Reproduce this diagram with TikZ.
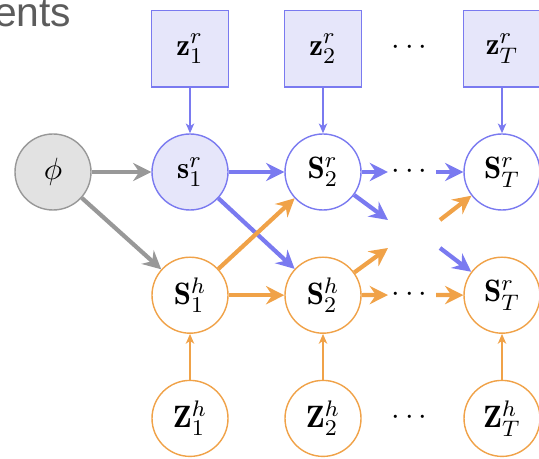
\documentclass[tikz,border=0pt]{standalone}
\usepackage{amsmath,amsfonts,amssymb}
\usepackage{fontspec}
\newfontfamily\slidefont{Liberation Sans}
\usetikzlibrary{arrows.meta,calc}

\definecolor{rblue}{RGB}{122,122,240}
\definecolor{rfill}{RGB}{230,230,250}
\definecolor{horange}{RGB}{240,162,72}
\definecolor{pgray}{RGB}{152,152,152}
\definecolor{pfill}{RGB}{226,226,226}
\definecolor{titlegray}{RGB}{92,92,92}

\begin{document}
\begin{tikzpicture}[node distance=1.54cm,
    every node/.style={line width=0.5pt,font=\fontsize{11}{13}\selectfont},
    rnode/.style={shape=circle,draw=rblue,fill=white,minimum size=0.95cm,inner sep=0pt},
    hnode/.style={shape=circle,draw=horange,fill=white,minimum size=0.95cm,inner sep=0pt},
    zbox/.style={shape=rectangle,draw=rblue,fill=rfill,minimum size=0.96cm,inner sep=0pt},
    thin r/.style={-{Stealth[length=3.5pt,width=3pt,inset=1pt]},draw=rblue,line width=0.55pt},
    thin h/.style={-{Stealth[length=3.5pt,width=3pt,inset=1pt]},draw=horange,line width=0.55pt},
    bold/.style={-{Stealth[length=6.5pt,width=6.5pt,inset=2.2pt]},line width=1.5pt},
    bold r/.style={bold,draw=rblue},
    bold h/.style={bold,draw=horange},
    bold p/.style={bold,draw=pgray}]

  \useasboundingbox (0,0) rectangle (6.7375,-5.725);

  % slide title running into the frame
  \node[anchor=base east,inner sep=0pt,text=titlegray,font=\slidefont\fontsize{14.5}{17}\selectfont] (title) at (0.9,-0.33) {ents};

  % state chain
  \node[rnode,fill=rfill] (s1r) at (2.375,-2.15) {$\mathbf{s}^r_1$};
  \node[rnode] (s2r) [right of=s1r,node distance=1.6625cm] {$\mathbf{S}^r_2$};
  \node[rnode] (sTr) [right of=s2r,node distance=2.2375cm] {$\mathbf{S}^r_T$};
  \node[shape=circle,draw=pgray,fill=pfill,minimum size=0.95cm,inner sep=0pt] (phi) [left of=s1r,node distance=1.7125cm] {$\phi$};
  \node[hnode] (s1h) [below of=s1r] {$\mathbf{S}^h_1$};
  \node[hnode] (s2h) [below of=s2r] {$\mathbf{S}^h_2$};
  \node[hnode] (sTh) [below of=sTr] {$\mathbf{S}^r_T$};

  % observed inputs
  \node[zbox] (z1r) [above of=s1r] {$\mathbf{z}^r_1$};
  \node[zbox] (z2r) [above of=s2r] {$\mathbf{z}^r_2$};
  \node[zbox] (zTr) [above of=sTr] {$\mathbf{z}^r_T$};
  \node[hnode] (z1h) [below of=s1h] {$\mathbf{Z}^h_1$};
  \node[hnode] (z2h) [below of=s2h] {$\mathbf{Z}^h_2$};
  \node[hnode] (zTh) [below of=sTh] {$\mathbf{Z}^h_T$};

  % dots between step 2 and T
  \node[inner sep=1pt] (dz) at (5.15,-0.6) {$\cdots$};
  \node[inner sep=1pt] (dr) at (5.15,-2.15) {$\cdots$};
  \node[inner sep=1pt] (dh) at (5.15,-3.6875) {$\cdots$};
  \node[inner sep=1pt] (dzh) at (5.15,-5.225) {$\cdots$};
  \coordinate (out r) at (4.85,-2.75);
  \coordinate (out h) at (4.85,-3.1);
  \coordinate (in h) at (5.5,-2.75);
  \coordinate (in r) at (5.5,-3.1);

  \path (z1r) edge[thin r] (s1r)
        (z2r) edge[thin r] (s2r)
        (zTr) edge[thin r] (sTr)
        (z1h) edge[thin h] (s1h)
        (z2h) edge[thin h] (s2h)
        (zTh) edge[thin h] (sTh);

  \path (phi) edge[bold p] (s1r)
              edge[bold p] (s1h)
        (s1r) edge[bold r] (s2r)
              edge[bold r] (s2h)
        (s1h) edge[bold h] (s2r)
              edge[bold h] (s2h)
        (s2r) edge[bold r] (dr)
              edge[bold r] (out r)
        (s2h) edge[bold h] (dh)
              edge[bold h] (out h)
        (dr) edge[bold r] (sTr)
        (in h) edge[bold h] (sTr)
        (in r) edge[bold r] (sTh)
        (dh) edge[bold h] (sTh);
\end{tikzpicture}
\end{document}
